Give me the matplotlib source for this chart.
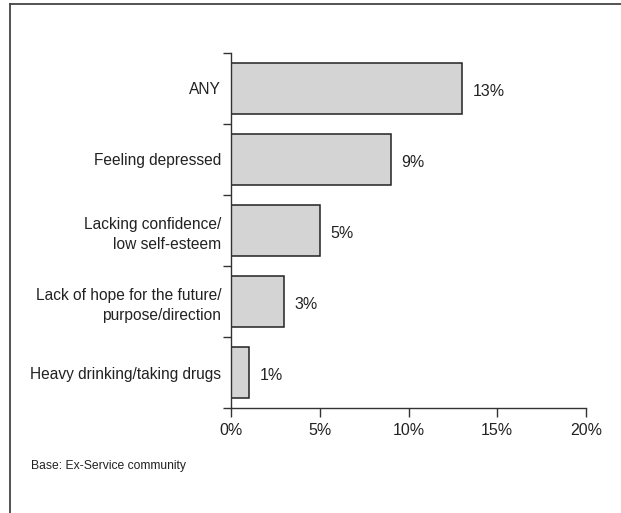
import numpy as np
import matplotlib
matplotlib.use("Agg")
import matplotlib.pyplot as plt
from matplotlib.lines import Line2D

plt.rcParams['font.family'] = ['Liberation Sans', 'DejaVu Sans']

categories = ["ANY", "Feeling depressed", "Lacking confidence/\nlow self-esteem",
              "Lack of hope for the future/\npurpose/direction", "Heavy drinking/taking drugs"]
values = [13, 9, 5, 3, 1]
xticks = [0, 5, 10, 15, 20]

fig = plt.figure(figsize=(6.21, 5.13), dpi=100)
ax = fig.add_axes([231/621, 1-408/513, (586-231)/621, (408-53)/513])

y = np.arange(len(categories))
ax.barh(y, values, height=0.72, color='#d4d4d4', edgecolor='#222222', linewidth=1.1, zorder=2)
for yi, v in zip(y, values):
    ax.text(v + 0.6, yi + 0.04, f"{v}%", va='center', ha='left', fontsize=11.5, color='#222222')

ax.set_xlim(0, 20)
ax.set_ylim(len(categories) - 0.5, -0.5)

# ticks at category boundaries, labels at centres
ax.set_yticks(np.arange(len(categories) + 1) - 0.5)
ax.set_yticklabels([])
ax.set_yticks(y, minor=True)
ax.set_yticklabels(categories, minor=True, fontsize=11.2, color='#222222', linespacing=1.42)
ax.tick_params(axis='y', which='major', length=5.5, width=1.0, color='#333333', direction='out')
ax.tick_params(axis='y', which='minor', length=0, pad=7)

ax.set_xticks(xticks)
ax.set_xticklabels([f"{t}%" for t in xticks], fontsize=11.5, color='#222222')
ax.tick_params(axis='x', length=6.5, width=1.0, color='#333333', pad=4.5)

for s in ['top', 'right']:
    ax.spines[s].set_visible(False)
for s in ['left', 'bottom']:
    ax.spines[s].set_color('#333333')
    ax.spines[s].set_linewidth(1.0)

fig.text(31/621, 1-466/513, "Base: Ex-Service community", fontsize=8.7, color='#222222', va='center', ha='left')

# outer frame (top and left edges only visible)
fig.add_artist(Line2D([10/621, 1], [1-4/513, 1-4/513], transform=fig.transFigure, color='#444444', lw=1.3))
fig.add_artist(Line2D([10/621, 10/621], [0, 1-4/513], transform=fig.transFigure, color='#444444', lw=1.3))

fig.savefig("out.png", dpi=100)
